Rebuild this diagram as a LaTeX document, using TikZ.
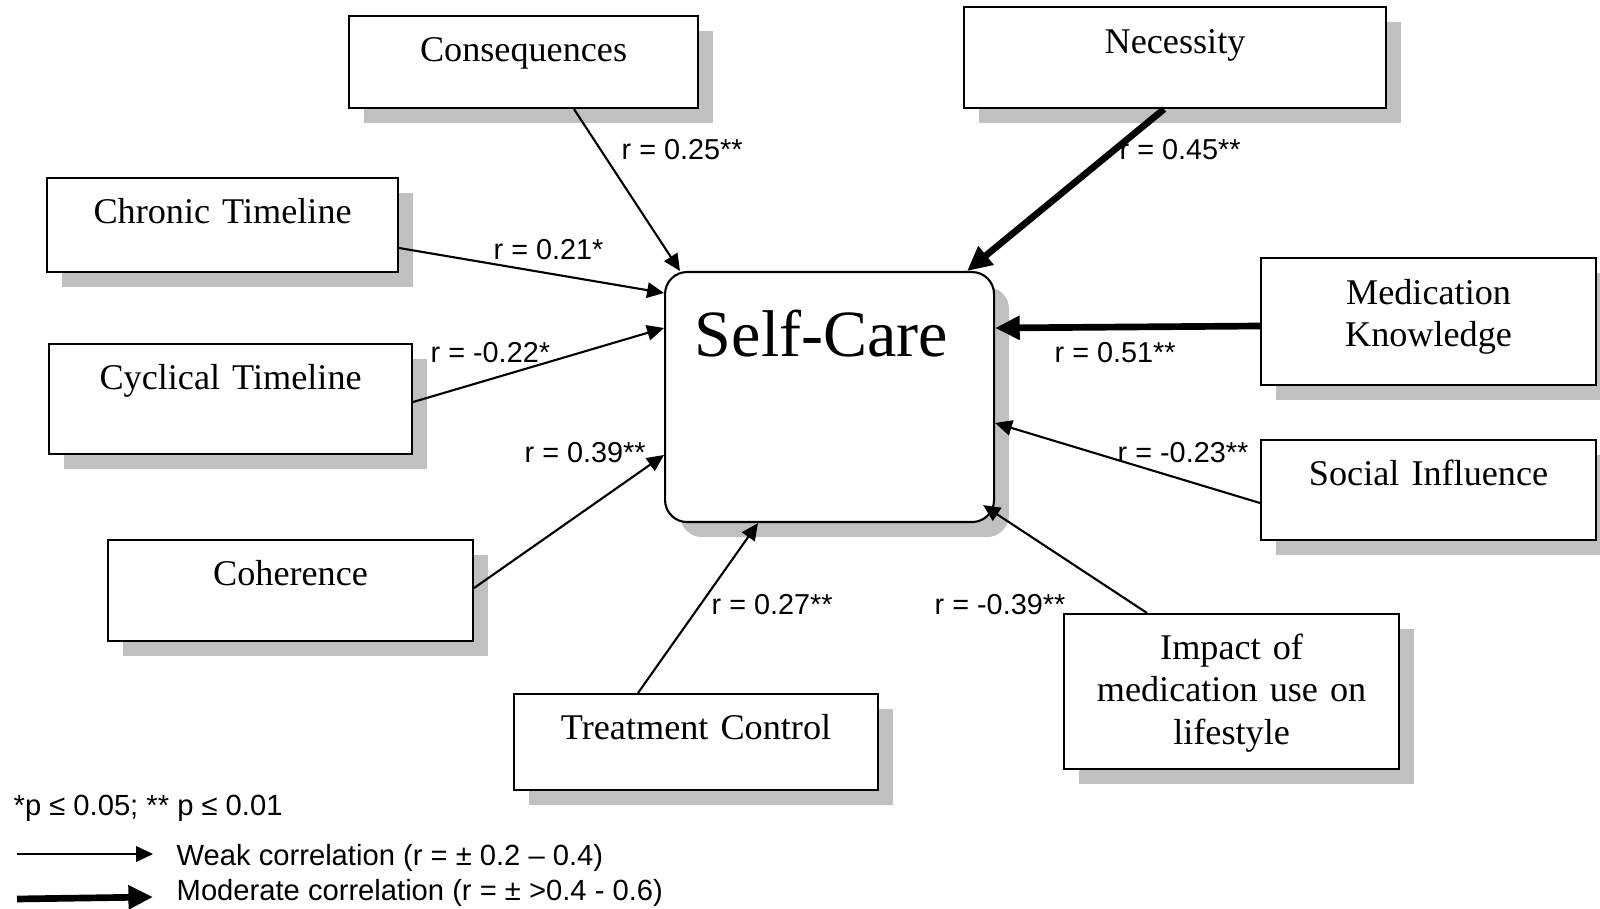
\documentclass[tikz,border=0pt]{standalone}
\usepackage{fontspec}
\setmainfont{Liberation Serif}
\newfontfamily\lblfont{Liberation Sans}
\usetikzlibrary{arrows.meta,shadows}
\definecolor{shadowgray}{HTML}{C0C0C0}
\tikzset{
 factor/.style={draw,line width=0.6pt,fill=white,inner sep=0pt,anchor=north west,align=center,
   text height=4.5mm,font=\fontsize{10.3}{12.2}\selectfont,
   general shadow={fill=shadowgray,shadow xshift=1.5mm,shadow yshift=-1.5mm}},
 corr/.style={font=\lblfont\fontsize{8.2}{9.8}\selectfont,inner sep=0pt,anchor=west},
 weak/.style={-{Triangle[length=4.8pt,width=4.4pt]},line width=0.6pt},
 moderate/.style={-{Triangle[length=7pt,width=6.5pt]},line width=1.9pt}
}
\begin{document}
\begin{tikzpicture}[x=0.1mm,y=-0.1mm]
\clip (0,0) rectangle (1600,909);
% Hop giua
\node[factor,rounded corners=2.2mm,text width=32.9mm,text height=8.4mm,text depth=16.6mm,
  font=\fontsize{18.8}{22}\selectfont] (sc) at (664,271) {\kern-1.6mm Self-Care};
% Cac hop xung quanh
\node[factor,text width=34.9mm,text depth=4.7mm] (cons) at (348,15) {Consequences};
\node[factor,text width=42.2mm,text height=4.6mm,text depth=5.5mm] (nec) at (963,6) {Necessity};
\node[factor,text width=35.1mm,text depth=4.9mm] (chron) at (46,177) {Chronic Timeline};
\node[factor,text width=36.3mm,text depth=6.5mm] (cyc) at (48,343) {Cyclical Timeline};
\node[factor,text width=36.5mm,text depth=5.6mm] (coh) at (107,539) {Coherence};
\node[factor,text width=36.4mm,text depth=5.1mm] (treat) at (513,693) {Treatment Control};
\node[factor,text width=33.5mm,text depth=11mm] (impact) at (1063,613) {Impact of\\medication use on\\lifestyle};
\node[factor,text width=33.5mm,text depth=5.5mm] (social) at (1260,439) {Social Influence};
\node[factor,text width=33.5mm,text height=4.6mm,text depth=8.1mm] (medk) at (1260,257) {Medication\\Knowledge};
% Cac mui ten
\draw[weak] ([xshift=22.6mm]cons.south west) -- ([xshift=1.6mm]sc.north west);
\draw[weak] ([yshift=-7.1mm]chron.north east) -- ([yshift=-2.2mm]sc.north west);
\draw[weak] ([yshift=-5.9mm]cyc.north east) -- ([yshift=-5.7mm]sc.north west);
\draw[weak] ([yshift=-4.9mm]coh.north east) -- ([yshift=-18.4mm]sc.north west);
\draw[weak] ([xshift=12.5mm]treat.north west) -- ([xshift=9.4mm]sc.south west);
\draw[weak] ([xshift=8.4mm]impact.north west) -- ([xshift=-1.2mm,yshift=1.8mm]sc.south east);
\draw[weak] ([yshift=-6.4mm]social.north west) -- ([yshift=-15.2mm]sc.north east);
\draw[moderate] ([yshift=-6.9mm]medk.north west) -- ([yshift=-5.7mm]sc.north east);
\draw[moderate] ([xshift=20.1mm]nec.south west) -- ([xshift=-2.8mm]sc.north east);
% He so tuong quan
\node[corr] (r-cons) at (621,150) {r = 0.25**};
\node[corr] (r-nec) at (1119,150) {r = 0.45**};
\node[corr] (r-chron) at (493,250) {r = 0.21*};
\node[corr] (r-cyc) at (430,353) {r = -0.22*};
\node[corr] (r-medk) at (1054,353) {r = 0.51**};
\node[corr] (r-coh) at (524,453) {r = 0.39**};
\node[corr] (r-social) at (1117,453) {r = -0.23**};
\node[corr] (r-treat) at (711,605) {r = 0.27**};
\node[corr] (r-impact) at (934,605) {r = -0.39**};
% Chu thich
\node[corr,font=\lblfont\fontsize{8.3}{9.9}\selectfont] (sig) at (13,808) {*p ≤ 0.05; ** p ≤ 0.01};
\coordinate (wk-a) at (17,854); \coordinate (wk-b) at (153,854);
\coordinate (md-a) at (17,899); \coordinate (md-b) at (153,897);
\draw[weak] (wk-a) -- (wk-b);
\draw[moderate] (md-a) -- (md-b);
\node[corr,font=\lblfont\fontsize{8.3}{9.9}\selectfont] (wk-txt) at (176,858) {Weak correlation (r = ± 0.2 – 0.4)};
\node[corr,font=\lblfont\fontsize{8.3}{9.9}\selectfont] (md-txt) at (176,893) {Moderate correlation (r = ± >0.4 - 0.6)};
\end{tikzpicture}
\end{document}
